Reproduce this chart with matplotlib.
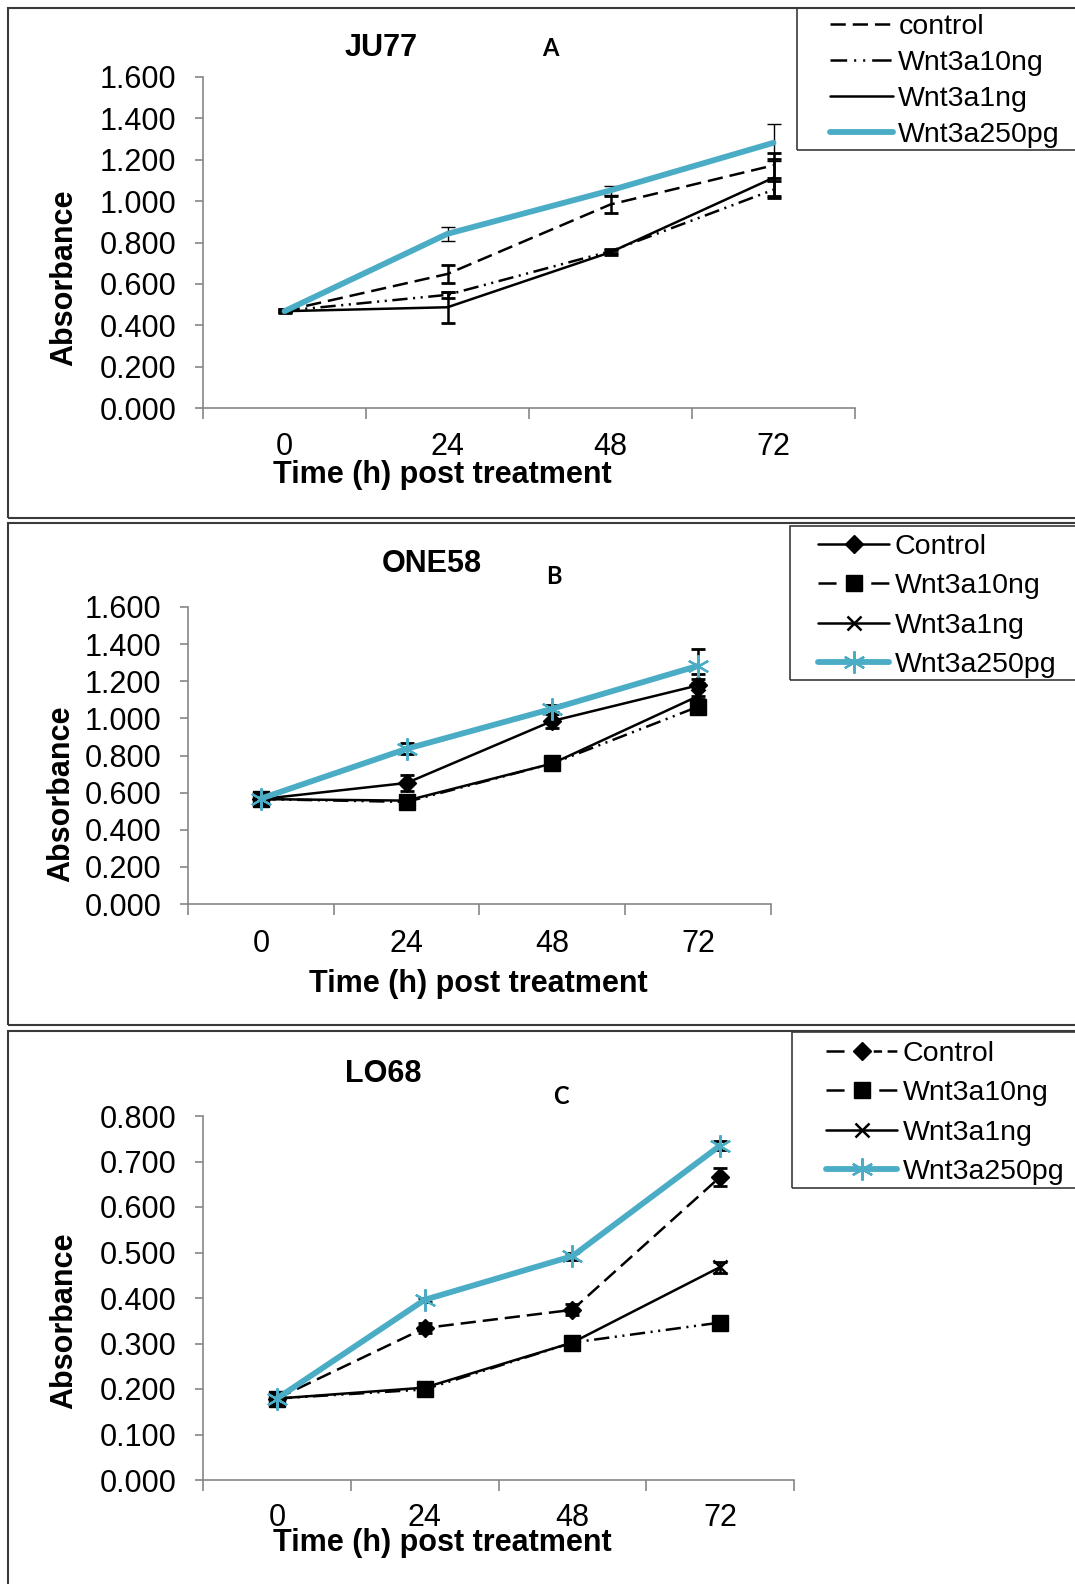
import matplotlib
matplotlib.use('Agg')
import matplotlib.pyplot as plt
from matplotlib.patches import Rectangle
from matplotlib.lines import Line2D
from matplotlib.ticker import FormatStrFormatter
import numpy as np

plt.rcParams['font.family'] = ['Liberation Sans', 'DejaVu Sans']
plt.rcParams['lines.scale_dashes'] = False

# ---------------- data ----------------
time_labels = ['0', '24', '48', '72']
names_A = ['control', 'Wnt3a10ng', 'Wnt3a1ng', 'Wnt3a250pg']
names_BC = ['Control', 'Wnt3a10ng', 'Wnt3a1ng', 'Wnt3a250pg']

# Panel A  JU77
ju77_control = [0.470, 0.648, 0.984, 1.173]
ju77_control_err = [0.008, 0.045, 0.040, 0.060]
ju77_10ng = [0.470, 0.547, 0.758, 1.055]
ju77_10ng_err = [0.008, 0.015, 0.010, 0.040]
ju77_1ng = [0.468, 0.487, 0.753, 1.113]
ju77_1ng_err = [0.008, 0.075, 0.012, 0.090]
ju77_250pg = [0.468, 0.842, 1.052, 1.282]
ju77_250pg_err = [0.005, 0.034, 0.020, 0.089]

# Panel B  ONE58
one58_control = [0.565, 0.652, 0.986, 1.178]
one58_control_err = [0.008, 0.045, 0.040, 0.060]
one58_10ng = [0.565, 0.550, 0.757, 1.063]
one58_10ng_err = [0.008, 0.015, 0.010, 0.040]
one58_1ng = [0.565, 0.557, 0.757, 1.120]
one58_1ng_err = [0.008, 0.030, 0.012, 0.090]
one58_250pg = [0.568, 0.836, 1.052, 1.283]
one58_250pg_err = [0.005, 0.030, 0.020, 0.090]

# Panel C  LO68
lo68_control = [0.179, 0.334, 0.374, 0.666]
lo68_control_err = [0.004, 0.012, 0.012, 0.019]
lo68_10ng = [0.179, 0.199, 0.302, 0.346]
lo68_10ng_err = [0.004, 0.005, 0.005, 0.005]
lo68_1ng = [0.179, 0.203, 0.302, 0.468]
lo68_1ng_err = [0.004, 0.005, 0.005, 0.012]
lo68_250pg = [0.179, 0.396, 0.492, 0.735]
lo68_250pg_err = [0.004, 0.005, 0.008, 0.010]

# ---------------- style ----------------
W, H = 1075, 1584
BLUE = '#4BACC6'
GRAY = '#868686'
DASH = (0, (11, 5))
DASHDOTDOT = (0, (11, 4, 1.5, 4, 1.5, 4))
ASTER = (6, 2, 0)

fig = plt.figure(figsize=(W / 100, H / 100), dpi=100)


def fx(px):
    return px / W


def fy(py):
    return 1 - py / H


def add_ax(l, t, r, b):
    ax = fig.add_axes([fx(l), fy(b), (r - l) / W, (b - t) / H])
    ax.patch.set_alpha(0)
    return ax


def setup(ax, ymax, ystep, xpad):
    x = np.arange(len(time_labels))
    ax.set_xlim(-0.5, len(time_labels) - 0.5)
    ax.set_ylim(0, ymax)
    ax.set_yticks(np.arange(0, ymax + 1e-9, ystep))
    ax.yaxis.set_major_formatter(FormatStrFormatter('%.3f'))
    ax.set_xticks(np.arange(-0.5, len(time_labels), 1.0))
    ax.set_xticklabels([])
    ax.set_xticks(x, minor=True)
    ax.set_xticklabels(time_labels, minor=True)
    ax.tick_params(axis='x', which='minor', length=0, pad=xpad, labelsize=22)
    ax.tick_params(axis='x', which='major', length=8, width=1.2, color=GRAY, direction='out')
    ax.tick_params(axis='y', length=6, width=1.2, color=GRAY, labelsize=22, pad=13, direction='out')
    for s in ['top', 'right']:
        ax.spines[s].set_visible(False)
    for s in ['left', 'bottom']:
        ax.spines[s].set_color(GRAY)
        ax.spines[s].set_linewidth(1.2)
    return x


def frame(l, t, r, b, lw=1.5, ec='#3a3a3a'):
    fig.add_artist(Rectangle((fx(l), fy(b)), (r - l) / W, (b - t) / H, transform=fig.transFigure,
                             fill=False, lw=lw, ec=ec, zorder=5))


def errs(ax, x, y, e, thin=False):
    ax.errorbar(x, y, yerr=e, fmt='none', ecolor='black',
                elinewidth=1.0 if thin else 1.8, capsize=5,
                capthick=1.0 if thin else 2.0, zorder=2)


def proxy(line, ls='-'):
    return Line2D([], [], color=line.get_color(), lw=line.get_linewidth(),
                  linestyle=ls, marker=line.get_marker(), ms=line.get_markersize(),
                  mew=line.get_markeredgewidth(), solid_capstyle='round')


def legend(ax, handles, names, x0, yc, hl, sp):
    ax.legend(handles, names, loc='center left', bbox_to_anchor=(fx(x0), fy(yc)),
              bbox_transform=fig.transFigure, frameon=False, fontsize=20.5, handlelength=hl,
              handletextpad=0.2, labelspacing=sp, borderpad=0, borderaxespad=0, numpoints=1)


# ---------------- Panel A ----------------
frame(8, 8, 1200, 518)
axA = add_ax(203, 77, 855, 408)
x = setup(axA, 1.6, 0.2, 17.5)
la = axA.plot(x, ju77_control, color='black', lw=1.8, linestyle=DASH, zorder=3)[0]
lb = axA.plot(x, ju77_10ng, color='black', lw=1.8, linestyle=DASHDOTDOT, zorder=3)[0]
lc = axA.plot(x, ju77_1ng, color='black', lw=1.8, zorder=3)[0]
ld = axA.plot(x, ju77_250pg, color=BLUE, lw=4.2, solid_capstyle='round', zorder=4)[0]
errs(axA, x, ju77_control, ju77_control_err)
errs(axA, x, ju77_10ng, ju77_10ng_err)
errs(axA, x, ju77_1ng, ju77_1ng_err)
errs(axA, x, ju77_250pg, ju77_250pg_err, thin=True)
fig.text(fx(381), fy(48), 'JU77', fontsize=22, fontweight='bold', ha='center', va='center')
fig.text(fx(550), fy(48), 'A', fontsize=17, fontweight='bold', ha='center', va='center',
         family=['Lato', 'DejaVu Sans'])
fig.text(fx(442), fy(475), 'Time (h) post treatment', fontsize=22, fontweight='bold',
         ha='center', va='center')
fig.text(fx(64), fy(278), 'Absorbance', fontsize=22, fontweight='bold', rotation=90,
         ha='center', va='center')
frame(797, 8, 1200, 150, lw=1.2)
legend(axA, [proxy(la, DASH), proxy(lb, (0, (12, 5, 1.5, 5, 1.5, 5, 14, 5))), proxy(lc), proxy(ld)],
       names_A, 830, 81, 2.2, 0.36)

# ---------------- Panel B ----------------
frame(8, 523, 1200, 1025)
axB = add_ax(188, 607, 771, 904)
x = setup(axB, 1.6, 0.2, 18)
la = axB.plot(x, one58_control, color='black', lw=1.8, marker='D', ms=9.5, zorder=3)[0]
lb = axB.plot(x, one58_10ng, color='black', lw=1.8, linestyle=DASHDOTDOT, marker='s', ms=11, zorder=3)[0]
lc = axB.plot(x, one58_1ng, color='black', lw=1.8, marker='x', ms=10, mew=1.8, zorder=3)[0]
ld = axB.plot(x, one58_250pg, color=BLUE, lw=4.2, marker=ASTER, ms=16, mew=1.6,
              solid_capstyle='round', zorder=4)[0]
errs(axB, x, one58_control, one58_control_err)
errs(axB, x, one58_10ng, one58_10ng_err)
errs(axB, x, one58_1ng, one58_1ng_err)
errs(axB, x, one58_250pg, one58_250pg_err)
fig.text(fx(432), fy(564), 'ONE58', fontsize=22, fontweight='bold', ha='center', va='center')
fig.text(fx(554), fy(576), 'B', fontsize=17, fontweight='bold', ha='center', va='center',
         family=['Lato', 'DejaVu Sans'])
fig.text(fx(478), fy(984), 'Time (h) post treatment', fontsize=22, fontweight='bold',
         ha='center', va='center')
fig.text(fx(61), fy(794), 'Absorbance', fontsize=22, fontweight='bold', rotation=90,
         ha='center', va='center')
frame(790, 526, 1200, 680, lw=1.2)
legend(axB, [proxy(la), proxy(lb, (0, (13, 25))), proxy(lc), proxy(ld)],
       names_BC, 818, 606, 2.5, 0.47)

# ---------------- Panel C ----------------
frame(8, 1031, 1200, 1700)
axC = add_ax(203, 1116, 794, 1480)
x = setup(axC, 0.8, 0.1, 16.8)
la = axC.plot(x, lo68_control, color='black', lw=1.8, linestyle=DASH, marker='D', ms=9.5, zorder=3)[0]
lb = axC.plot(x, lo68_10ng, color='black', lw=1.8, linestyle=DASHDOTDOT, marker='s', ms=11, zorder=3)[0]
lc = axC.plot(x, lo68_1ng, color='black', lw=1.8, marker='x', ms=10, mew=1.8, zorder=3)[0]
ld = axC.plot(x, lo68_250pg, color=BLUE, lw=4.2, marker=ASTER, ms=16, mew=1.6,
              solid_capstyle='round', zorder=4)[0]
errs(axC, x, lo68_control, lo68_control_err)
errs(axC, x, lo68_10ng, lo68_10ng_err)
errs(axC, x, lo68_1ng, lo68_1ng_err)
errs(axC, x, lo68_250pg, lo68_250pg_err)
fig.text(fx(383), fy(1074), 'LO68', fontsize=22, fontweight='bold', ha='center', va='center')
fig.text(fx(561), fy(1096), 'C', fontsize=17, fontweight='bold', ha='center', va='center',
         family=['Lato', 'DejaVu Sans'])
fig.text(fx(442), fy(1543), 'Time (h) post treatment', fontsize=22, fontweight='bold',
         ha='center', va='center')
fig.text(fx(64), fy(1321), 'Absorbance', fontsize=22, fontweight='bold', rotation=90,
         ha='center', va='center')
frame(792, 1032, 1200, 1188, lw=1.2)
legend(axC, [proxy(la, (0, (13, 21, 6, 4, 7, 10))), proxy(lb, (0, (13, 25))), proxy(lc), proxy(ld)],
       names_BC, 826, 1113, 2.5, 0.47)

fig.savefig('out.png', dpi=100)
